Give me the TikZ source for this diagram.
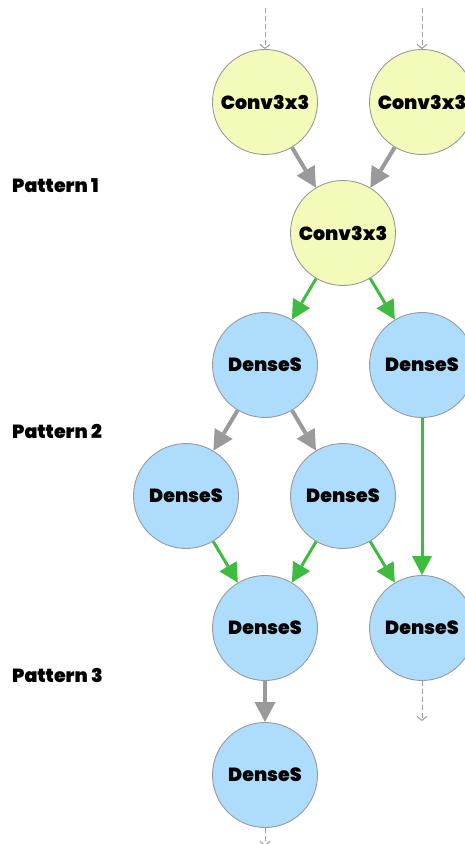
\documentclass[tikz,border=0pt]{standalone}
\usepackage{fontspec}
\usepackage{tikz}
\usetikzlibrary{arrows.meta}
\newfontfamily\blockfont{Poppins}[BoldFont={Poppins Black}]
\definecolor{convfill}{HTML}{F3FABA}
\definecolor{densefill}{HTML}{ADDCFC}
\definecolor{rimgray}{HTML}{9A9A9A}
\definecolor{flowgreen}{HTML}{3FBC3F}
\tikzset{
  block/.style={circle,draw=rimgray,line width=0.9pt,minimum size=105pt,inner sep=0pt,
    font=\blockfont\bfseries\fontsize{19}{19}\selectfont},
  conv/.style={block,fill=convfill},
  dense/.style={block,fill=densefill},
  grayflow/.style={color=rimgray,line width=4pt,-{Triangle[length=20pt,width=21pt,line width=0pt]}},
  greenflow/.style={color=flowgreen,line width=3pt,-{Triangle[length=19pt,width=20pt,line width=0pt]}},
  outer/.style={color=rimgray,line width=1pt,dash pattern=on 5pt off 3pt,
    -{Straight Barb[length=4pt,width=10pt]}},
  patname/.style={anchor=west,inner sep=0pt,font=\blockfont\bfseries\fontsize{19}{19}\selectfont}
}

\begin{document}
\begin{tikzpicture}[x=1pt,y=-1pt]
    \useasboundingbox (0,0) rectangle (465,844);
    \node[conv] (C1) at (265,102) {Conv3x3};
    \node[conv] (C2) at (422,102) {Conv3x3};
    \node[conv] (C3) at (343,233) {Conv3x3};
    \node[dense] (D1) at (265,365) {DenseS};
    \node[dense] (D2) at (422,365) {DenseS};
    \node[dense] (D3) at (186,496) {DenseS};
    \node[dense] (D4) at (343,496) {DenseS};
    \node[dense] (D5) at (265,628) {DenseS};
    \node[dense] (D6) at (422,628) {DenseS};
    \node[dense] (D7) at (265,775) {DenseS};
    \node[patname] (P1) at (12,186) {Pattern 1};
    \node[patname] (P2) at (12,431) {Pattern 2};
    \node[patname] (P3) at (12,675) {Pattern 3};
    \coordinate (in1) at (265,8);
    \coordinate (in2) at (422,8);
    \coordinate (out6) at (422,721);
    \coordinate (out7) at (265,846);
    \draw[outer] (in1) -- (C1);
    \draw[outer] (in2) -- (C2);
    \draw[outer] (D6) -- (out6);
    \draw[outer] (D7) -- (out7);
    \path[grayflow] (C1) edge (C3);
    \path[grayflow] (C2) edge (C3);
    \path[greenflow] (C3) edge (D1);
    \path[greenflow] (C3) edge (D2);
    \path[grayflow] (D1) edge (D3);
    \path[grayflow] (D1) edge (D4);
    \path[greenflow] (D2) edge (D6);
    \path[greenflow] (D3) edge (D5);
    \path[greenflow] (D4) edge (D5);
    \path[greenflow] (D4) edge (D6);
    \path[grayflow] (D5) edge (D7);
\end{tikzpicture}
\end{document}
